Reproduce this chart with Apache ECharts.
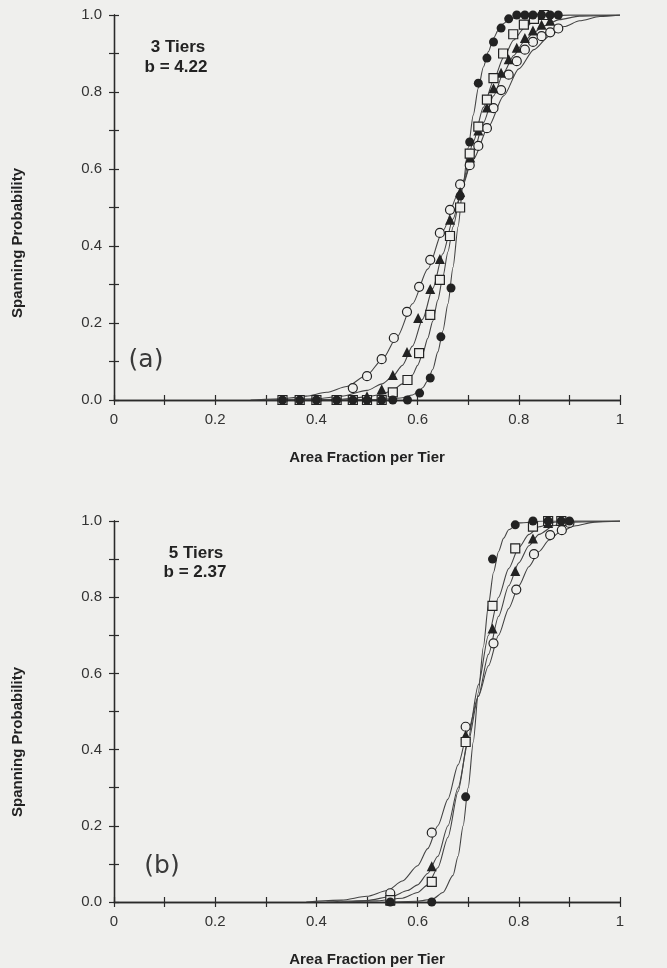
<!DOCTYPE html>
<html>
<head>
<meta charset="utf-8">
<script src="https://cdn.jsdelivr.net/npm/echarts@6/dist/echarts.min.js"></script>
<style>
  html, body { margin: 0; padding: 0; background: #efefed; }
  #main { width: 667px; height: 968px; }
</style>
</head>
<body>
<div id="main"></div>
<script type="text/javascript">
  // panel (a): 3 tiers, b = 4.22  -- measured points
  var aFilledCircle = [[0.333,0],[0.367,0],[0.4,0],[0.44,0],[0.472,0],[0.5,0],[0.529,0],[0.551,0],[0.58,0],
    [0.604,0.018],[0.625,0.057],[0.646,0.164],[0.666,0.291],[0.684,0.53],[0.703,0.67],[0.72,0.823],
    [0.737,0.888],[0.75,0.93],[0.765,0.966],[0.78,0.99],[0.796,1],[0.812,1],[0.828,1],[0.845,1],[0.862,1],[0.878,1]];
  var aOpenSquare = [[0.333,0],[0.367,0],[0.4,0],[0.44,0],[0.472,0],[0.5,0],[0.529,0],
    [0.551,0.02],[0.58,0.052],[0.603,0.122],[0.625,0.221],[0.644,0.312],[0.664,0.426],[0.684,0.5],
    [0.703,0.64],[0.72,0.71],[0.737,0.78],[0.75,0.836],[0.769,0.9],[0.789,0.95],[0.81,0.975],[0.83,0.99],[0.85,1]];
  var aFilledTriangle = [[0.333,0],[0.367,0],[0.4,0],[0.44,0],[0.472,0],[0.5,0.01],
    [0.529,0.028],[0.551,0.065],[0.579,0.125],[0.601,0.213],[0.625,0.288],[0.644,0.366],[0.664,0.468],
    [0.684,0.54],[0.704,0.63],[0.72,0.7],[0.737,0.76],[0.75,0.81],[0.765,0.85],[0.78,0.885],[0.796,0.915],
    [0.812,0.94],[0.828,0.96],[0.845,0.975],[0.862,0.985]];
  var aOpenCircle = [[0.333,0],[0.367,0],[0.4,0],[0.44,0],
    [0.472,0.031],[0.5,0.062],[0.529,0.106],[0.553,0.161],[0.579,0.229],[0.603,0.294],[0.625,0.364],
    [0.644,0.434],[0.664,0.494],[0.684,0.56],[0.703,0.61],[0.72,0.66],[0.737,0.706],[0.75,0.758],
    [0.765,0.805],[0.78,0.845],[0.796,0.88],[0.812,0.91],[0.828,0.93],[0.845,0.945],[0.862,0.955],[0.878,0.965]];

  // panel (a) fitted curves
  var aFitFilledCircle = [[0.4,0],[0.5,0.001],[0.55,0.003],[0.57,0.006],[0.59,0.013],[0.6,0.02],[0.61,0.032],
    [0.62,0.05],[0.63,0.08],[0.64,0.125],[0.65,0.18],[0.66,0.25],[0.67,0.345],[0.68,0.45],[0.69,0.56],
    [0.7,0.655],[0.71,0.74],[0.72,0.81],[0.73,0.865],[0.74,0.905],[0.75,0.94],[0.76,0.962],[0.77,0.978],
    [0.78,0.988],[0.8,0.997],[0.85,1],[1,1]];
  var aFitOpenSquare = [[0.35,0],[0.45,0.002],[0.5,0.008],[0.53,0.015],[0.55,0.025],[0.57,0.042],[0.59,0.065],
    [0.6,0.09],[0.61,0.12],[0.62,0.16],[0.63,0.205],[0.64,0.26],[0.65,0.32],[0.66,0.385],[0.67,0.45],
    [0.69,0.57],[0.71,0.67],[0.73,0.76],[0.75,0.83],[0.77,0.89],[0.79,0.935],[0.81,0.965],[0.83,0.983],
    [0.85,0.993],[0.9,1],[1,1]];
  var aFitFilledTriangle = [[0.3,0],[0.4,0.003],[0.45,0.01],[0.5,0.025],[0.53,0.042],[0.55,0.06],[0.57,0.09],
    [0.59,0.14],[0.61,0.21],[0.63,0.29],[0.65,0.38],[0.67,0.47],[0.69,0.56],[0.71,0.64],[0.73,0.72],
    [0.75,0.79],[0.77,0.85],[0.79,0.895],[0.81,0.93],[0.83,0.955],[0.85,0.972],[0.88,0.988],[0.92,0.997],[1,1]];
  var aFitOpenCircle = [[0.27,0],[0.33,0.003],[0.38,0.01],[0.42,0.02],[0.46,0.035],[0.5,0.065],[0.53,0.105],
    [0.56,0.165],[0.59,0.25],[0.62,0.34],[0.65,0.44],[0.68,0.535],[0.71,0.625],[0.74,0.71],[0.77,0.79],
    [0.8,0.86],[0.83,0.91],[0.86,0.945],[0.89,0.97],[0.92,0.985],[0.96,0.996],[1,1]];

  // panel (b): 5 tiers, b = 2.37  -- measured points
  var bFilledCircle = [[0.546,0],[0.628,0],[0.695,0.276],[0.748,0.9],[0.793,0.99],[0.828,1],[0.858,1],[0.884,1],[0.9,1]];
  var bOpenSquare = [[0.546,0.005],[0.628,0.053],[0.695,0.42],[0.748,0.777],[0.793,0.928],[0.828,0.985],[0.858,1],[0.884,1]];
  var bFilledTriangle = [[0.546,0.003],[0.628,0.094],[0.695,0.438],[0.748,0.718],[0.793,0.869],[0.828,0.954],[0.858,0.995],[0.884,1]];
  var bOpenCircle = [[0.546,0.023],[0.628,0.182],[0.695,0.46],[0.75,0.679],[0.795,0.82],[0.83,0.913],[0.862,0.963],[0.885,0.976],[0.9,0.995]];

  // panel (b) fitted curves
  var bFitFilledCircle = [[0.55,0],[0.6,0.002],[0.63,0.008],[0.65,0.025],[0.67,0.07],[0.68,0.12],[0.69,0.2],
    [0.7,0.3],[0.71,0.42],[0.72,0.55],[0.73,0.67],[0.74,0.78],[0.75,0.865],[0.76,0.92],[0.77,0.955],
    [0.78,0.977],[0.8,0.995],[0.85,1],[1,1]];
  var bFitOpenSquare = [[0.45,0],[0.52,0.003],[0.57,0.01],[0.6,0.025],[0.62,0.045],[0.64,0.09],[0.66,0.17],
    [0.68,0.29],[0.7,0.43],[0.72,0.57],[0.74,0.7],[0.76,0.8],[0.78,0.875],[0.8,0.93],[0.82,0.965],
    [0.84,0.985],[0.87,0.997],[0.9,1],[1,1]];
  var bFitFilledTriangle = [[0.42,0],[0.5,0.004],[0.55,0.015],[0.58,0.03],[0.6,0.045],[0.62,0.075],[0.64,0.12],
    [0.66,0.2],[0.68,0.3],[0.7,0.42],[0.72,0.54],[0.74,0.65],[0.76,0.75],[0.78,0.83],[0.8,0.89],
    [0.82,0.935],[0.84,0.965],[0.87,0.988],[0.9,0.997],[1,1]];
  var bFitOpenCircle = [[0.38,0],[0.45,0.005],[0.5,0.015],[0.54,0.03],[0.57,0.055],[0.6,0.095],[0.62,0.14],
    [0.64,0.2],[0.66,0.27],[0.68,0.36],[0.7,0.45],[0.72,0.54],[0.74,0.62],[0.76,0.7],[0.78,0.77],
    [0.8,0.83],[0.82,0.88],[0.84,0.92],[0.86,0.95],[0.88,0.97],[0.91,0.987],[0.95,0.997],[1,1]];

  var panelText = [['3 Tiers', 'b = 4.22', '(a)'], ['5 Tiers', 'b = 2.37', '(b)']];

  var ink = '#2a2a2a';
  var paper = '#efefed';
  var grids = [
    { left: 114, top: 15, width: 506, height: 385 },
    { left: 114, top: 521, width: 506, height: 381 }
  ];

  function xLabel(v) {
    if (Math.round(v * 10) % 2 !== 0) return '';
    if (v === 0) return '0';
    if (Math.abs(v - 1) < 1e-9) return '1';
    return v.toFixed(1);
  }
  function yLabel(v) {
    if (Math.round(v * 10) % 2 !== 0) return '';
    return v.toFixed(1);
  }

  var xAxes = [], yAxes = [];
  for (var g = 0; g < 2; g++) {
    ['bottom', 'top'].forEach(function(pos) {
      xAxes.push({
        type: 'value', gridIndex: g, position: pos, min: 0, max: 1, interval: 0.1,
        splitLine: { show: false },
        axisLine: { lineStyle: { color: ink, width: 1.3 } },
        axisTick: { inside: true, length: 5, lineStyle: { color: ink, width: 1.2 } },
        axisLabel: {
          show: pos === 'bottom', formatter: xLabel, margin: 12,
          fontFamily: 'Liberation Sans', fontSize: 15, color: '#333'
        },
        name: pos === 'bottom' ? 'Area Fraction per Tier' : '',
        nameLocation: 'middle', nameGap: 50,
        nameTextStyle: { fontFamily: 'Liberation Sans', fontWeight: 'bold', fontSize: 15, color: '#222' }
      });
    });
    ['left', 'right'].forEach(function(pos) {
      yAxes.push({
        type: 'value', gridIndex: g, position: pos, min: 0, max: 1, interval: 0.1,
        splitLine: { show: false },
        axisLine: { lineStyle: { color: ink, width: 1.3 } },
        axisTick: { inside: true, length: 5, lineStyle: { color: ink, width: 1.2 } },
        axisLabel: {
          show: pos === 'left', formatter: yLabel, margin: 12,
          fontFamily: 'Liberation Sans', fontSize: 15, color: '#333'
        }
      });
    });
  }

  var series = [];
  function addFit(data, g) {
    series.push({
      type: 'line', xAxisIndex: g * 2, yAxisIndex: g * 2, data: data,
      showSymbol: false, smooth: 0.25, smoothMonotone: 'x', silent: true,
      lineStyle: { color: '#444', width: 1.1 }, z: 2
    });
  }
  function addPts(data, g, symbol, filled) {
    series.push({
      type: 'scatter', xAxisIndex: g * 2, yAxisIndex: g * 2, data: data,
      symbol: symbol, symbolSize: symbol === 'triangle' ? 10 : 9,
      itemStyle: { color: filled ? '#222' : paper, borderColor: '#222', borderWidth: filled ? 0 : 1.2, opacity: 1 },
      z: 3
    });
  }
  addFit(aFitFilledCircle, 0); addFit(aFitOpenSquare, 0); addFit(aFitFilledTriangle, 0); addFit(aFitOpenCircle, 0);
  addPts(aOpenCircle, 0, 'circle', false);
  addPts(aFilledTriangle, 0, 'triangle', true);
  addPts(aOpenSquare, 0, 'rect', false);
  addPts(aFilledCircle, 0, 'circle', true);
  addFit(bFitFilledCircle, 1); addFit(bFitOpenSquare, 1); addFit(bFitFilledTriangle, 1); addFit(bFitOpenCircle, 1);
  addPts(bOpenCircle, 1, 'circle', false);
  addPts(bFilledTriangle, 1, 'triangle', true);
  addPts(bOpenSquare, 1, 'rect', false);
  addPts(bFilledCircle, 1, 'circle', true);

  var bold = { fontFamily: 'Liberation Sans', fontWeight: 'bold', fontSize: 17, fill: '#222', textAlign: 'center', textVerticalAlign: 'middle' };
  var light = { fontFamily: 'DejaVu Sans', fontWeight: 'normal', fontSize: 25, fill: '#3a3a3a', textAlign: 'center', textVerticalAlign: 'middle' };
  var yName = { text: 'Spanning Probability', fontFamily: 'Liberation Sans', fontWeight: 'bold', fontSize: 15, fill: '#222', textAlign: 'center', textVerticalAlign: 'middle' };
  var graphics = [
    { type: 'text', x: 178, y: 47, style: Object.assign({ text: panelText[0][0] }, bold) },
    { type: 'text', x: 176, y: 67, style: Object.assign({ text: panelText[0][1] }, bold) },
    { type: 'text', x: 196, y: 553, style: Object.assign({ text: panelText[1][0] }, bold) },
    { type: 'text', x: 195, y: 572, style: Object.assign({ text: panelText[1][1] }, bold) },
    { type: 'text', x: 146, y: 360, style: Object.assign({ text: panelText[0][2] }, light) },
    { type: 'text', x: 162, y: 866, style: Object.assign({ text: panelText[1][2] }, light) },
    { type: 'text', x: 18, y: 243, rotation: Math.PI / 2, style: yName },
    { type: 'text', x: 18, y: 742, rotation: Math.PI / 2, style: yName }
  ];

  var myChart = echarts.init(document.getElementById('main'), null, { renderer: 'canvas' });
  myChart.setOption({
    backgroundColor: paper,
    animation: false,
    grid: grids,
    xAxis: xAxes,
    yAxis: yAxes,
    series: series,
    graphic: graphics
  });
</script>
</body>
</html>
